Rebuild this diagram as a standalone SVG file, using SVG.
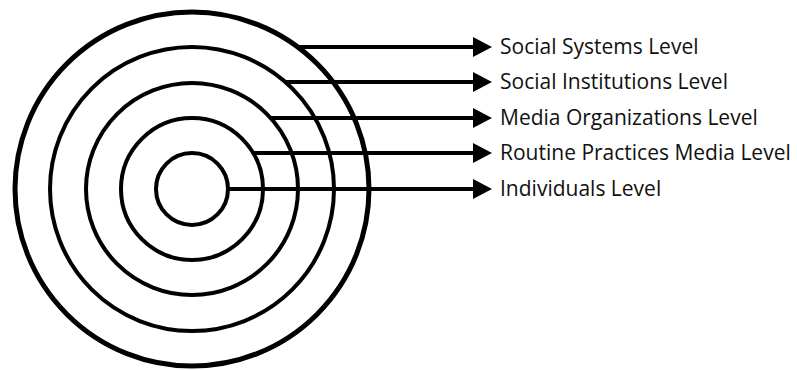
<svg xmlns="http://www.w3.org/2000/svg" width="797" height="370" viewBox="0 0 797 370">
  <style>
    .ring { fill: none; stroke: #000; stroke-width: 4; }
    .ring.outer { stroke-width: 5; }
    .link { stroke: #000; stroke-width: 4; fill: none; marker-end: url(#head); }
    .label { font-family: "Open Sans", "Liberation Sans", sans-serif; font-size: 21px; fill: #111; }
  </style>
  <defs>
    <marker id="head" markerUnits="userSpaceOnUse" markerWidth="20" markerHeight="22" refX="2" refY="10" orient="auto">
      <path d="M0,0 L19,10 L0,20 Z" fill="#000"/>
    </marker>
  </defs>
  <rect width="797" height="370" fill="#fff"/>

  <!-- concentric levels, outermost first -->
  <g id="social-systems"><circle class="ring outer" cx="192" cy="189" r="177"/></g>
  <g id="social-institutions"><circle class="ring" cx="192" cy="189" r="142"/></g>
  <g id="media-organizations"><circle class="ring" cx="192" cy="189" r="106"/></g>
  <g id="routine-practices"><circle class="ring" cx="192" cy="189" r="71"/></g>
  <g id="individuals"><circle class="ring" cx="192" cy="189" r="36"/></g>

  <!-- leader arrows from each ring to its label -->
  <g id="connectors">
    <line class="link" x1="297" y1="47" x2="475" y2="47"/>
    <line class="link" x1="285" y1="82" x2="475" y2="82"/>
    <line class="link" x1="270" y1="118" x2="475" y2="118"/>
    <line class="link" x1="253" y1="153" x2="475" y2="153"/>
    <line class="link" x1="228" y1="189" x2="475" y2="189"/>
  </g>

  <g id="labels">
    <text class="label" x="500" y="54">Social Systems Level</text>
    <text class="label" x="500" y="89">Social Institutions Level</text>
    <text class="label" x="500" y="125">Media Organizations Level</text>
    <text class="label" x="500" y="160">Routine Practices Media Level</text>
    <text class="label" x="500" y="196">Individuals Level</text>
  </g>
</svg>
